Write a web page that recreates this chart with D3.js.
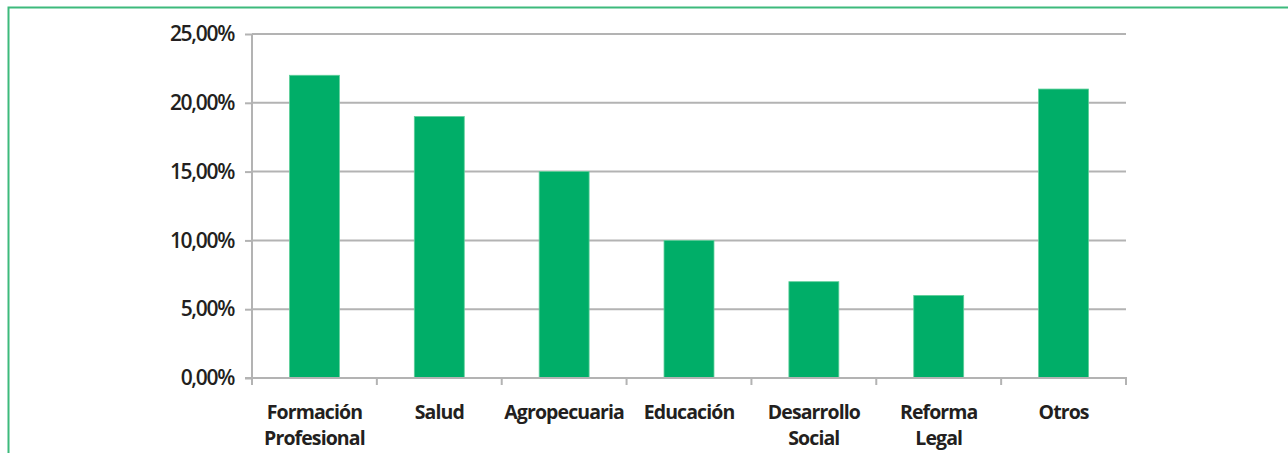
<!DOCTYPE html>
<html>
<head>
<meta charset="utf-8">
<script src="https://cdn.jsdelivr.net/npm/d3@7"></script>
<style>
  html, body { margin: 0; padding: 0; background: #fff; }
  svg { display: block; }
  text { font-family: "Open Sans", sans-serif; font-weight: 600; fill: #231f20; }
</style>
</head>
<body>
<svg id="chart" width="1288" height="453"></svg>
<script>
const categories = [["Formación", "Profesional"], ["Salud"], ["Agropecuaria"], ["Educación"], ["Desarrollo", "Social"], ["Reforma", "Legal"], ["Otros"]];
const values = [22, 19, 15, 10, 7, 6, 21];
const yTicks = [0, 5, 10, 15, 20, 25];

(function () {
const svg = d3.select("#chart");
const pLeft = 252, pRight = 1126, pTop = 34, pBottom = 378;

// frame
svg.append("rect")
  .attr("x", 8.5).attr("y", 7.5)
  .attr("width", 1300).attr("height", 460)
  .attr("fill", "none").attr("stroke", "#3dba7c").attr("stroke-width", 2);

const keys = categories.map((c, i) => i);
const x = d3.scaleBand().domain(keys).range([pLeft, pRight]).paddingInner(0.6).paddingOuter(0.3);
const xTickScale = d3.scaleBand().domain(keys).range([pLeft, pRight]).padding(0);
const y = d3.scaleLinear().domain([0, 25]).range([pBottom, pTop]);

// gridlines
svg.append("g").selectAll("line").data(yTicks.filter(d => d > 0)).join("line")
  .attr("x1", pLeft).attr("x2", pRight)
  .attr("y1", d => y(d)).attr("y2", d => y(d))
  .attr("stroke", "#b3b3b3").attr("stroke-width", 2);

// bars
svg.append("g").selectAll("rect").data(values).join("rect")
  .attr("x", (d, i) => x(i))
  .attr("y", d => y(d))
  .attr("width", x.bandwidth())
  .attr("height", d => y(0) - y(d))
  .attr("fill", "#00ae68")
  .attr("stroke", "#5fcf9a").attr("stroke-width", 0.8);

// y axis
const yAxis = d3.axisLeft(y).tickValues(yTicks).tickSize(7).tickPadding(11)
  .tickFormat(d => d.toFixed(2).replace(".", ",") + "%");
const gy = svg.append("g").attr("transform", `translate(${pLeft},0)`).call(yAxis);
gy.select(".domain").attr("stroke", "#b3b3b3").attr("stroke-width", 2).attr("d", `M0,${pTop}V${pBottom}`);
gy.selectAll(".tick line").attr("stroke", "#b3b3b3").attr("stroke-width", 2);
gy.selectAll(".tick text").attr("font-size", 21).attr("letter-spacing", "-1.3px")
  .style("font-family", '"Open Sans", sans-serif').style("font-weight", 600).attr("fill", "#231f20");

// x axis line and ticks
const gx = svg.append("g");
gx.append("line").attr("x1", pLeft - 7).attr("x2", pRight + 1).attr("y1", pBottom).attr("y2", pBottom)
  .attr("stroke", "#b3b3b3").attr("stroke-width", 2);
const boundaries = keys.map(k => xTickScale(k)).concat([pRight]);
gx.selectAll("line.t").data(boundaries).join("line").attr("class", "t")
  .attr("x1", d => d).attr("x2", d => d).attr("y1", pBottom).attr("y2", pBottom + 7)
  .attr("stroke", "#b3b3b3").attr("stroke-width", 2);

// x labels
const lab = svg.append("g").selectAll("text").data(categories).join("text")
  .attr("text-anchor", "middle")
  .attr("font-size", 19.5)
  .style("font-weight", 700)
  .attr("letter-spacing", "-0.9px")
  .attr("x", (d, i) => x(i) + x.bandwidth() / 2)
  .attr("y", 419);
lab.each(function(d, i) {
  const t = d3.select(this);
  d.forEach((line, j) => {
    t.append("tspan").attr("x", x(i) + x.bandwidth() / 2).attr("dy", j === 0 ? 0 : 26).text(line);
  });
});
})();
</script>
</body>
</html>
